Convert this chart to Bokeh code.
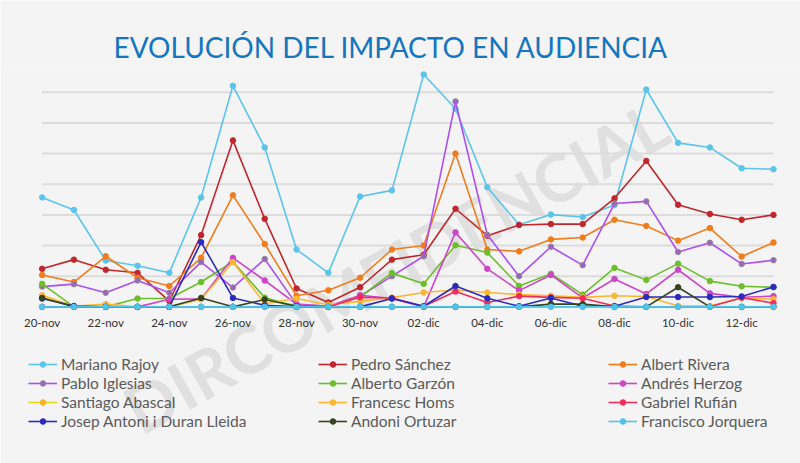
from bokeh.plotting import figure
from bokeh.models import Range1d, FixedTicker, Legend, LegendItem, Label
from bokeh.embed import file_html
from bokeh.resources import INLINE
import math

dates = ["20-nov", "21-nov", "22-nov", "23-nov", "24-nov", "25-nov", "26-nov", "27-nov",
         "28-nov", "29-nov", "30-nov", "01-dic", "02-dic", "03-dic", "04-dic", "05-dic",
         "06-dic", "07-dic", "08-dic", "09-dic", "10-dic", "11-dic", "12-dic", "13-dic"]

grid_levels = [0, 1, 2, 3, 4, 5, 6, 7]

rajoy = [3.57, 3.16, 1.51, 1.34, 1.11, 3.57, 7.21, 5.20, 1.87, 1.11, 3.60, 3.80,
         7.58, 6.46, 3.90, 2.68, 3.01, 2.93, 3.32, 7.09, 5.35, 5.20, 4.52, 4.49]
sanchez = [1.24, 1.54, 1.21, 1.11, 0.19, 2.34, 5.43, 2.87, 0.60, 0.14, 0.64, 1.54,
           1.70, 3.20, 2.32, 2.67, 2.70, 2.70, 3.54, 4.76, 3.33, 3.03, 2.84, 3.00]
rivera = [1.04, 0.81, 1.65, 0.95, 0.68, 1.60, 3.64, 2.05, 0.36, 0.54, 0.95, 1.87,
          2.00, 5.00, 1.87, 1.81, 2.20, 2.26, 2.84, 2.64, 2.16, 2.57, 1.64, 2.10]
iglesias = [0.66, 0.74, 0.46, 0.86, 0.46, 1.46, 0.63, 1.56, 0.08, 0.00, 0.34, 1.00,
            1.65, 6.70, 2.35, 1.00, 1.96, 1.36, 3.37, 3.44, 1.79, 2.09, 1.40, 1.52]
garzon = [0.75, 0.00, 0.00, 0.27, 0.27, 0.81, 1.47, 0.30, 0.02, 0.00, 0.33, 1.10,
          0.75, 2.01, 1.77, 0.68, 1.08, 0.40, 1.27, 0.88, 1.41, 0.84, 0.67, 0.64]
herzog = [0.00, 0.00, 0.00, 0.00, 0.25, 0.26, 1.60, 0.86, 0.09, 0.02, 0.38, 0.27,
          0.00, 2.43, 1.24, 0.53, 1.04, 0.29, 0.91, 0.42, 1.21, 0.44, 0.31, 0.35]
abascal = [0.33, 0.02, 0.00, 0.00, 0.00, 0.00, 0.00, 0.00, 0.00, 0.00, 0.00, 0.00,
           0.00, 0.00, 0.00, 0.00, 0.00, 0.00, 0.00, 0.00, 0.00, 0.00, 0.00, 0.00]
homs = [0.38, 0.02, 0.09, 0.00, 0.00, 0.25, 1.46, 0.11, 0.27, 0.07, 0.18, 0.30,
        0.47, 0.55, 0.47, 0.40, 0.36, 0.31, 0.36, 0.34, 0.03, 0.03, 0.29, 0.25]
rufian = [0.00, 0.00, 0.00, 0.00, 0.00, 0.00, 0.00, 0.00, 0.00, 0.00, 0.31, 0.29,
          0.02, 0.50, 0.14, 0.35, 0.31, 0.28, 0.03, 0.00, 0.00, 0.00, 0.30, 0.12]
duran = [0.27, 0.03, 0.00, 0.00, 0.00, 2.11, 0.29, 0.05, 0.00, 0.00, 0.00, 0.27,
         0.02, 0.68, 0.28, 0.02, 0.29, 0.02, 0.02, 0.32, 0.32, 0.32, 0.34, 0.65]
ortuzar = [0.29, 0.00, 0.00, 0.00, 0.00, 0.29, 0.00, 0.24, 0.02, 0.00, 0.00, 0.00,
           0.00, 0.00, 0.00, 0.00, 0.09, 0.09, 0.00, 0.00, 0.64, 0.00, 0.00, 0.00]
jorquera = [0.00, 0.00, 0.00, 0.00, 0.00, 0.00, 0.00, 0.00, 0.00, 0.00, 0.00, 0.00,
            0.00, 0.00, 0.00, 0.00, 0.00, 0.00, 0.00, 0.00, 0.00, 0.00, 0.00, 0.00]

names = ["Mariano Rajoy", "Pedro Sánchez", "Albert Rivera",
         "Pablo Iglesias", "Alberto Garzón", "Andrés Herzog",
         "Santiago Abascal", "Francesc Homs", "Gabriel Rufián",
         "Josep Antoni i Duran Lleida", "Andoni Ortuzar", "Francisco Jorquera"]
values = [rajoy, sanchez, rivera, iglesias, garzon, herzog,
          abascal, homs, rufian, duran, ortuzar, jorquera]
line_colors = ["#5bc4ea", "#c0272d", "#f07c1c", "#ad4ef0", "#6dbe2b", "#cc46c7",
               "#e0dc1c", "#fbb731", "#f02d5a", "#2b2bbd", "#36451f", "#4fc3ea"]
marker_colors = ["#5bc4ea", "#c0272d", "#f07c1c", "#a060c8", "#6dbe2b", "#cc46c7",
                 "#f7b32b", "#fbb731", "#f02d5a", "#2b2bbd", "#36451f", "#4fc3ea"]
marker_lines = ["#5bc4ea", "#c0272d", "#f07c1c", "#8e8e8e", "#6dbe2b", "#cc46c7",
                "#f7b32b", "#fbb731", "#f02d5a", "#2b2bbd", "#36451f", "#4fc3ea"]

x = list(range(len(dates)))

p = figure(width=800, height=463, output_backend="svg", toolbar_location=None,
           x_range=Range1d(-1.31, 23.85), y_range=Range1d(-5.11, 7.71),
           y_axis_location=None,
           min_border_left=0, min_border_right=0, min_border_top=70, min_border_bottom=0,
           background_fill_color="#f4f4f4", border_fill_color="#f4f4f4",
           outline_line_color=None)

p.title.text = "EVOLUCIÓN DEL IMPACTO EN AUDIENCIA"
p.title.align = "left"
p.title.offset = 113
p.title.standoff = 14
p.title.text_font = "Lato"
p.title.text_font_style = "normal"
p.title.text_font_size = "28px"
p.title.text_color = "#1475c0"

p.xgrid.visible = False
p.ygrid.visible = False

p.xaxis.fixed_location = 0
p.xaxis.ticker = FixedTicker(ticks=list(range(0, 24, 2)))
p.xaxis.major_label_overrides = {i: dates[i] for i in range(0, 24, 2)}
p.xaxis.axis_line_color = None
p.xaxis.major_tick_line_color = None
p.xaxis.minor_tick_line_color = None
p.xaxis.major_label_standoff = 3
p.xaxis.major_label_text_font = "Lato"
p.xaxis.major_label_text_font_size = "11.5px"
p.xaxis.major_label_text_color = "#333333"

wm = Label(x=395, y=197, x_units="screen", y_units="screen", text="DIRCOMFIDENCIAL",
           angle=math.radians(29), text_align="center", text_baseline="middle",
           text_font="Lato", text_font_size="66px", text_font_style="bold",
           text_color="#e0e0e0", text_alpha=1.0, level="underlay")
p.add_layout(wm)

# horizontal guide lines spanning the first to the last date
p.multi_line(xs=[[x[0], x[-1]] for _ in grid_levels], ys=[[g, g] for g in grid_levels],
             line_color="#dcdcdc", line_width=2)

items = []
for nm, vals, lc, mc, ml in zip(names, values, line_colors, marker_colors, marker_lines):
    r1 = p.line(x, vals, line_color=lc, line_width=1.6)
    r2 = p.scatter(x, vals, size=5.5, fill_color=mc, line_color=ml, line_width=1)
    items.append(LegendItem(label=nm, renderers=[r1, r2]))

legend = Legend(items=items, orientation="horizontal", ncols=3, location=(28, 33),
                label_text_font="Lato", label_text_font_size="15.5px",
                label_text_color="#5a5a5a", glyph_width=29, glyph_height=14,
                label_standoff=4, label_width=256, label_height=14, spacing=1,
                padding=0, margin=0, border_line_color=None,
                background_fill_alpha=0)
p.add_layout(legend)

open("out.html", "w").write(file_html(p, INLINE))
